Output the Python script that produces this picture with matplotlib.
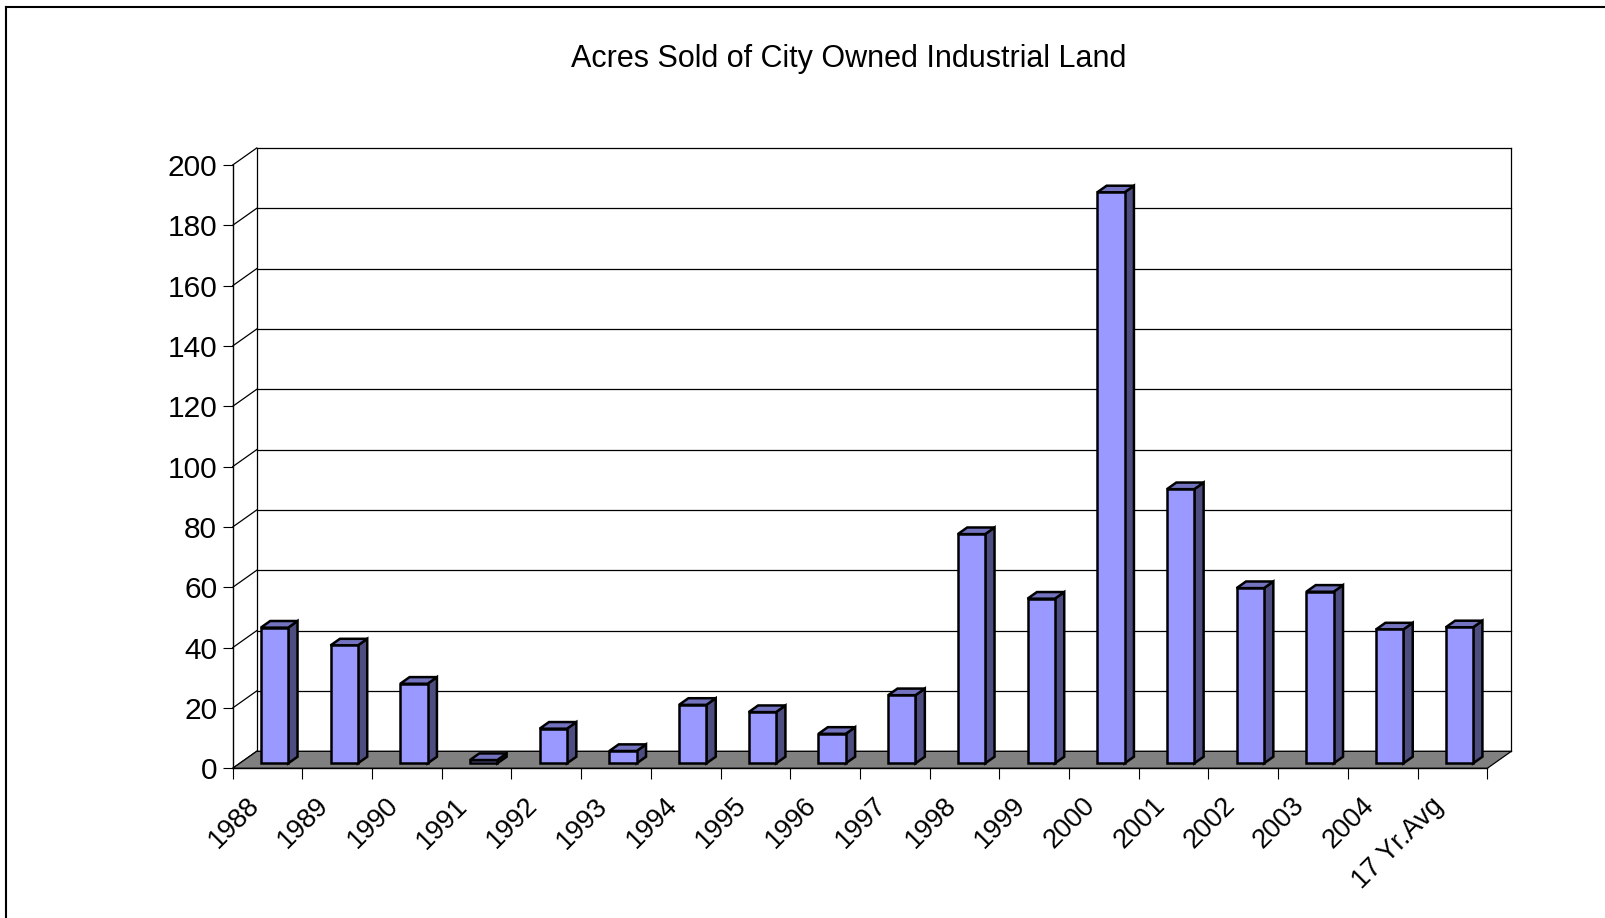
import matplotlib
matplotlib.use("Agg")
import matplotlib.pyplot as plt
from matplotlib.patches import Polygon
from matplotlib.lines import Line2D
from matplotlib.transforms import offset_copy

plt.rcParams["font.family"] = ["Liberation Sans", "DejaVu Sans"]

# ---- data ----
categories = ["1988", "1989", "1990", "1991", "1992", "1993", "1994", "1995",
              "1996", "1997", "1998", "1999", "2000", "2001", "2002", "2003",
              "2004", "17 Yr.Avg"]
acres = [45.0, 39.1, 26.4, 1.1, 11.5, 4.1, 19.4, 17.0, 9.8, 22.6,
         76.0, 54.6, 189.3, 90.9, 58.1, 56.9, 44.4, 45.1]
y_ticks = [0, 20, 40, 60, 80, 100, 120, 140, 160, 180, 200]
title = "Acres Sold of City Owned Industrial Land"

# ---- styling ----
FRONT = "#9999FF"
TOP = "#7373BF"
SIDE = "#4D4D80"
FLOOR = "#808080"

W, H = 1606, 918
fig = plt.figure(figsize=(W / 100, H / 100), dpi=100)
fig.patch.set_facecolor("white")

# front plane of the 3-D box in pixels
x0_px, x1_px = 232.7, 1487.3
y0_px, y200_px = 768.3, 165.0
ax = fig.add_axes([x0_px / W, 1 - y0_px / H,
                   (x1_px - x0_px) / W, (y0_px - y200_px) / H])
n = len(categories)
ymax = y_ticks[-1]
ax.set_xlim(0, n)
ax.set_ylim(0, ymax)
ax.set_facecolor("none")

# depth offset of the box expressed in data units
cat_px = (x1_px - x0_px) / n
val_px = (y0_px - y200_px) / ymax
DX = 24.0 / cat_px
DY = 17.0 / val_px

# axes, ticks
for s in ("top", "right"):
    ax.spines[s].set_visible(False)
ax.spines["left"].set_linewidth(1.0)
ax.spines["bottom"].set_linewidth(1.0)
ax.set_yticks(y_ticks)
ax.set_yticklabels([str(v) for v in y_ticks], fontsize=21.5)
ax.tick_params(axis="y", direction="out", length=7.2, width=0.8, pad=4)
ax.set_xticks(range(n + 1))
ax.set_xticklabels([])
ax.tick_params(axis="x", direction="out", length=7.7, width=0.8)

lk = dict(color="black", lw=0.9, clip_on=False, zorder=1)
# back wall gridlines and edges
for v in y_ticks:
    ax.add_line(Line2D([DX, n + DX], [v + DY, v + DY], **lk))
    ax.add_line(Line2D([0, DX], [v, v + DY], **lk))
ax.add_line(Line2D([DX, DX], [DY, ymax + DY], **lk))
ax.add_line(Line2D([n + DX, n + DX], [DY, ymax + DY], **lk))

# floor
ax.add_patch(Polygon([(0, 0), (n, 0), (n + DX, DY), (DX, DY)], closed=True,
                     facecolor=FLOOR, edgecolor="black", lw=0.9,
                     clip_on=False, zorder=2))

# 3-D bars
half = 0.196
d0, d1 = 0.29, 0.68
ek = dict(edgecolor="black", lw=1.8, joinstyle="miter", clip_on=False, zorder=3)
for i, v in enumerate(acres):
    c = i + 0.5
    xl, xr = c - half + d0 * DX, c + half + d0 * DX
    yb, yt = d0 * DY, v + d0 * DY
    ddx, ddy = (d1 - d0) * DX, (d1 - d0) * DY
    ax.add_patch(Polygon([(xr, yb), (xr + ddx, yb + ddy), (xr + ddx, yt + ddy),
                          (xr, yt)], closed=True, facecolor=SIDE, **ek))
    ax.add_patch(Polygon([(xl, yt), (xr, yt), (xr + ddx, yt + ddy),
                          (xl + ddx, yt + ddy)], closed=True, facecolor=TOP, **ek))
    ax.add_patch(Polygon([(xl, yb), (xr, yb), (xr, yt), (xl, yt)], closed=True,
                         facecolor=FRONT, **ek))

# rotated category labels
lab_tr = offset_copy(ax.transData, fig=fig, x=-12.5, y=-33.5, units="dots")
for i, name in enumerate(categories):
    ax.text(i + 0.5, 0, name, transform=lab_tr, rotation=45,
            rotation_mode="anchor", ha="right", va="center", fontsize=19.5)

fig.text(848.5 / W, 1 - 58.5 / H, title, ha="center", va="center", fontsize=22)

# outer frame
fig.add_artist(Line2D([6.5 / W, 6.5 / W], [0, 1 - 7 / H], transform=fig.transFigure,
                      color="black", lw=1.5))
fig.add_artist(Line2D([6 / W, 1], [1 - 7 / H, 1 - 7 / H], transform=fig.transFigure,
                      color="black", lw=1.5))

fig.savefig("out.png", dpi=100)
